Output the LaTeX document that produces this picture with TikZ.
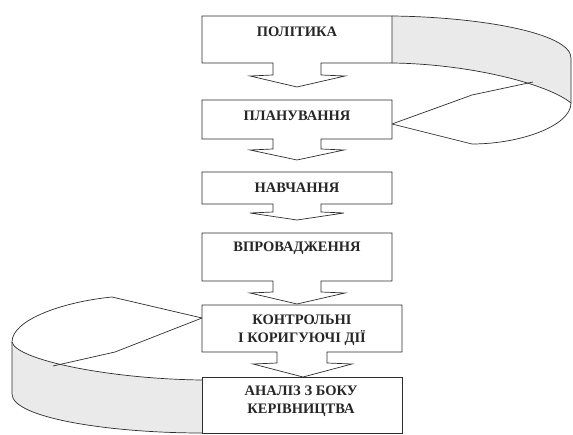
\documentclass[tikz,border=0pt]{standalone}
\usepackage{fontspec}
\setmainfont{Liberation Serif}
\usepackage{tikz}
\usetikzlibrary{positioning}
\definecolor{linegray}{RGB}{45,45,45}
\definecolor{bandgray}{RGB}{234,234,234}

\begin{document}
\begin{tikzpicture}[x=1pt, y=-1pt,
    stage/.style={draw=linegray, fill=white, line width=0.7pt, line join=miter},
    band/.style={draw=linegray, line width=0.7pt},
    lbl/.style={font=\fontsize{14.5}{18}\selectfont\bfseries, align=center, text=black!85}]
    \useasboundingbox (0,0) rectangle (573,435);

    % Upper loop (Policy -> Planning)
    \fill[bandgray] (392,16) .. controls (480,17) and (571,33) .. (571,58) -- (571,103)
        .. controls (548,84) and (470,64) .. (392,63) -- cycle;
    \draw[band] (392,16) .. controls (480,17) and (571,33) .. (571,58) -- (571,103)
        .. controls (571,126) and (520,144) .. (472,144) -- (392,124);
    \draw[band] (392,63) .. controls (470,64) and (548,84) .. (571,103);
    \draw[band] (533,82) -- (472,95) -- (392,124);

    % Lower loop (Control -> Review)
    \fill[bandgray] (12,342) .. controls (16,360) and (110,379) .. (202,380) -- (202,433)
        .. controls (110,433) and (12,418) .. (12,394) -- cycle;
    \draw[band] (202,318) -- (112,297) .. controls (62,302) and (12,320) .. (12,342) -- (12,394)
        .. controls (12,418) and (110,433) .. (202,433);
    \draw[band] (12,342) .. controls (16,360) and (110,379) .. (202,380);
    \draw[band] (202,318) -- (115,352) -- (53,366);

    % Stages with block arrows
    \draw[stage] (202,16) -- (392,16) -- (392,63) -- (321,63) -- (321,75) -- (345,76)
        -- (297,87) -- (250,76) -- (273,75) -- (273,63) -- (202,63) -- cycle;
    \draw[stage] (202,100) -- (392,100) -- (392,139) -- (321,139) -- (321,149) -- (344,150)
        -- (297,160) -- (250,150) -- (273,149) -- (273,139) -- (202,139) -- cycle;
    \draw[stage] (202,172) -- (392,172) -- (392,204) -- (321,204) -- (321,212) -- (344,213)
        -- (297,220) -- (250,213) -- (273,212) -- (273,204) -- (202,204) -- cycle;
    \draw[stage] (202,233) -- (392,233) -- (392,281) -- (321,281) -- (321,292) -- (345,293)
        -- (297,304) -- (250,293) -- (273,292) -- (273,281) -- (202,281) -- cycle;
    \draw[stage] (202,305) -- (402,305) -- (402,352) -- (327,352) -- (327,363) -- (352,364)
        -- (303,377) -- (253,364) -- (277,363) -- (277,352) -- (202,352) -- cycle;
    \draw[stage] (202,377) -- (402,377) -- (402,433) -- (202,433) -- cycle;

    % Labels
    \node[lbl] (pol) at (297,32) {ПОЛІТИКА};
    \node[lbl] (plan) at (297,116) {ПЛАНУВАННЯ};
    \node[lbl] (navch) at (297,188) {НАВЧАННЯ};
    \node[lbl] (vprov) at (297,248) {ВПРОВАДЖЕННЯ};
    \node[lbl] (kontr) at (302,330) {КОНТРОЛЬНІ\\І КОРИГУЮЧІ ДІЇ};
    \node[lbl] (analiz) at (301,401) {АНАЛІЗ З БОКУ\\КЕРІВНИЦТВА};
\end{tikzpicture}
\end{document}
